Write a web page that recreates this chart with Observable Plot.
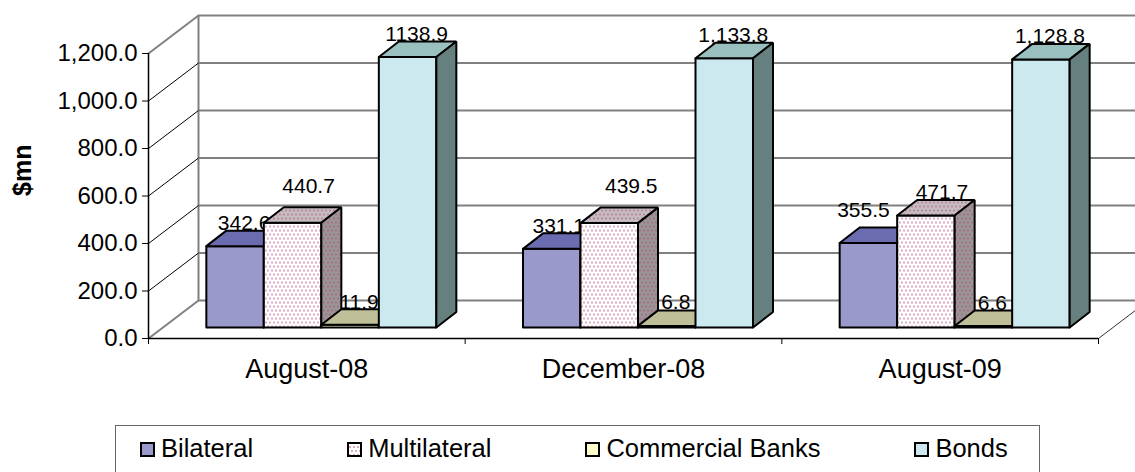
<!DOCTYPE html>
<html>
<head>
<meta charset="utf-8">
<script src="https://cdn.jsdelivr.net/npm/d3@7"></script>
<script src="https://cdn.jsdelivr.net/npm/@observablehq/plot@0.6"></script>
<style>
  html, body { margin: 0; padding: 0; background: #fff; }
  body { font-family: "Liberation Sans", Arial, sans-serif; }
  #wrap { position: relative; width: 1135px; height: 472px; overflow: hidden; background: #fff; }
  #chart svg { display: block; }
  #legend {
    position: absolute; left: 115px; top: 425px; width: 925px; height: 70px;
    box-sizing: border-box; border: 1.5px solid #666;
    display: flex; gap: 94px; padding: 8px 0 0 24px;
    font-size: 25.5px; line-height: 1.15; color: #000;
  }
  #legend .item { display: flex; align-items: baseline; white-space: nowrap; }
  #legend .item svg { margin-right: 6px; overflow: visible; }
</style>
</head>
<body>
<div id="wrap">
  <div id="chart"></div>
  <div id="legend"></div>
</div>
<script>
// ---------- data ----------
const categories = ["August-08", "December-08", "August-09"];
const series = ["Bilateral", "Multilateral", "Commercial Banks", "Bonds"];
const bilateral = [342.6, 331.1, 355.5];
const multilateral = [440.7, 439.5, 471.7];
const commercialBanks = [11.9, 6.8, 6.6];
const bonds = [1138.9, 1133.8, 1128.8];
const bilateralLabels = ["342.6", "331.1", "355.5"];
const multilateralLabels = ["440.7", "439.5", "471.7"];
const commercialBanksLabels = ["11.9", "6.8", "6.6"];
const bondsLabels = ["1138.9", "1,133.8", "1,128.8"];
const yTicks = [0, 200, 400, 600, 800, 1000, 1200];
const yLabel = "$mn";

// ---------- layout & style ----------
const width = 1135, height = 405;
const margin = {top: 53, right: 37, bottom: 67, left: 148};
const yMax = 1200;
const pxPerCat = (width - margin.left - margin.right) / categories.length;
const pxPerUnit = (height - margin.top - margin.bottom) / yMax;
const wall = {dx: 50, dy: 38};          // depth of the chart box (px)
const barShift = {dx: 14.5, dy: 11};    // bars sit a little behind the front plane (px)
const barDepth = {dx: 20, dy: 15.5};    // depth of each bar (px)
const barWidth = 57.5 / pxPerCat;       // in category units
const wallX = wall.dx / pxPerCat, wallY = wall.dy / pxPerUnit;
const depthX = barDepth.dx / pxPerCat, depthY = barDepth.dy / pxPerUnit;

const seriesValues = [bilateral, multilateral, commercialBanks, bonds];
const seriesLabels = [bilateralLabels, multilateralLabels, commercialBanksLabels, bondsLabels];
const faceColors = [
  {front: "#9999CC", top: "#6B6BB0", side: "#50508A"},
  {front: "url(#dotFront)", top: "url(#dotTop)", side: "url(#dotSide)"},
  {front: "#FFFFCC", top: "#BFBF99", side: "#80805F"},
  {front: "#CCE9EF", top: "#99BFBF", side: "#668080"}
];
const legendColors = ["#9999CC", "url(#dotFront)", "#FFFFCC", "#CCE9EF"];
// label offsets in px: base plus small per-label nudges (as in the original layout)
const labelBase = {dx: barShift.dx + 9, dy: -barShift.dy - 16};
const labelNudge = [
  [[0, 0], [-2, 0], [-14, -10]],
  [[7, -14], [13, -14], [7, 0]],
  [[0, 0], [0, -1], [0, 0]],
  [[0, 0], [0, 0], [0, 0]]
];
const gridGray = "#808080";

function barLeft(i, j) { return i + 0.5 + (j - series.length / 2) * barWidth; }

function faceRows(j, kind) {
  const rows = [];
  seriesValues[j].forEach((v, i) => {
    const xl = barLeft(i, j), xr = xl + barWidth;
    let pts;
    if (kind === "front") pts = [[xl, 0], [xr, 0], [xr, v], [xl, v]];
    else if (kind === "top") pts = [[xl, v], [xr, v], [xr + depthX, v + depthY], [xl + depthX, v + depthY]];
    else pts = [[xr, 0], [xr + depthX, depthY], [xr + depthX, v + depthY], [xr, v]];
    [...pts, pts[0]].forEach(([x, y]) => rows.push({id: `${j}-${i}-${kind}`, x, y}));
  });
  return rows;
}

const marks = [
  // back wall grid lines
  Plot.ruleY(yTicks, {x1: 0, x2: categories.length, dx: wall.dx, dy: -wall.dy, stroke: gridGray, strokeWidth: 2}),
  Plot.ruleX([0], {y1: 0, y2: yMax, dx: wall.dx, dy: -wall.dy, stroke: gridGray, strokeWidth: 2}),
  // side wall diagonals
  Plot.link(yTicks.filter(t => t !== 0 && t !== yMax), {x1: () => 0, y1: d => d, x2: () => wallX, y2: d => d + wallY, stroke: "#000", strokeWidth: 1}),
  Plot.link([0, yMax], {x1: () => 0, y1: d => d, x2: () => wallX, y2: d => d + wallY, stroke: gridGray, strokeWidth: 2}),
  // floor right edge
  Plot.link([0], {x1: () => categories.length, y1: () => 0, x2: () => categories.length + wallX, y2: () => wallY, stroke: "#333", strokeWidth: 1}),
  // front axes lines
  Plot.ruleY([0], {x1: 0, x2: categories.length, stroke: "#000", strokeWidth: 1.5}),
  Plot.ruleX([0], {y1: 0, y2: yMax, stroke: "#000", strokeWidth: 1.5}),
  Plot.axisY(yTicks, {tickSize: 6, tickPadding: 5, tickFormat: d3.format(",.1f"), fontSize: 24, label: null, stroke: "#000"}),
  Plot.axisX(d3.range(categories.length + 1), {tickSize: 6, tickFormat: () => "", label: null, stroke: "#000"})
];

series.forEach((s, j) => {
  for (const kind of ["front", "top", "side"]) {
    marks.push(Plot.line(faceRows(j, kind), {
      x: "x", y: "y", z: "id",
      fill: faceColors[j][kind], stroke: "#000", strokeWidth: 2, strokeLinejoin: "miter",
      dx: barShift.dx, dy: -barShift.dy
    }));
  }
  seriesValues[j].forEach((v, i) => {
    const [nx, ny] = labelNudge[j][i];
    marks.push(Plot.text([seriesLabels[j][i]], {
      x: () => barLeft(i, j) + barWidth / 2, y: () => v, text: d => d,
      dx: labelBase.dx + nx, dy: labelBase.dy + ny,
      lineAnchor: "bottom", textAnchor: "middle", fontSize: 21, fill: "#000"
    }));
  });
});

marks.push(
  Plot.text(categories, {x: (d, i) => i + 0.5, y: () => 0, dy: 31, lineAnchor: "middle", fontSize: 27, fill: "#000"}),
  Plot.text([yLabel], {frameAnchor: "left", dx: -126, rotate: -90, fontSize: 25, fontWeight: "bold", fill: "#000"})
);

const chart = Plot.plot({
  width, height,
  marginTop: margin.top, marginRight: margin.right, marginBottom: margin.bottom, marginLeft: margin.left,
  x: {domain: [0, categories.length], axis: null},
  y: {domain: [0, yMax], axis: null},
  style: {fontFamily: "Liberation Sans, Arial, sans-serif", background: "#fff", overflow: "visible", color: "#000"},
  marks
});

const ns = "http://www.w3.org/2000/svg";
const defs = document.createElementNS(ns, "defs");
function dotPattern(id, bg) {
  return `<pattern id="${id}" width="8" height="8" patternUnits="userSpaceOnUse">
    <rect width="8" height="8" fill="${bg}"/>
    <circle cx="1" cy="1" r="0.8" fill="#B8407A"/>
    <circle cx="5" cy="1" r="0.8" fill="#B8407A"/>
    <circle cx="3" cy="5" r="0.8" fill="#B8407A"/>
    <circle cx="7" cy="5" r="0.8" fill="#B8407A"/>
  </pattern>`;
}
defs.innerHTML = dotPattern("dotFront", "#FFFFFF") + dotPattern("dotTop", "#C4BEC0") + dotPattern("dotSide", "#9A9696");
chart.insertBefore(defs, chart.firstChild);
document.getElementById("chart").append(chart);

const legend = document.getElementById("legend");
series.forEach((s, j) => {
  const item = document.createElement("div");
  item.className = "item";
  item.innerHTML = `<svg width="15" height="15"><rect x="1" y="1" width="13" height="13" fill="${legendColors[j]}" stroke="#000" stroke-width="2"/></svg><span>${s}</span>`;
  legend.append(item);
});
</script>
</body>
</html>
